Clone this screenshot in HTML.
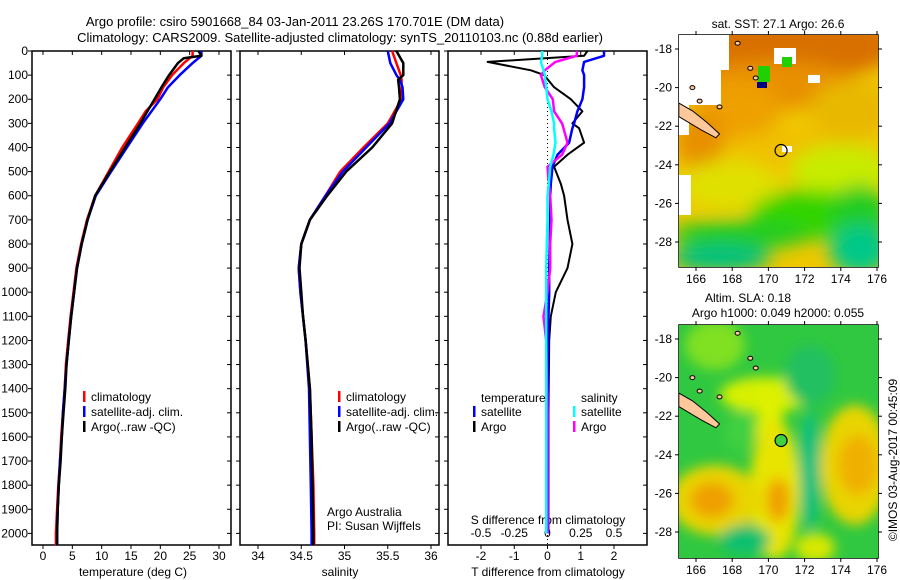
<!DOCTYPE html>
<html><head><meta charset="utf-8"><style>
html,body{margin:0;padding:0;background:#fff;}
svg{display:block;font-family:"Liberation Sans",sans-serif;}
</style></head><body>
<svg id="c" width="900" height="580" viewBox="0 0 900 580" xmlns="http://www.w3.org/2000/svg">
<defs>
<filter id="blur6" x="-20%" y="-20%" width="140%" height="140%"><feGaussianBlur stdDeviation="6"/></filter>
<filter id="blur10" x="-30%" y="-30%" width="160%" height="160%"><feGaussianBlur stdDeviation="9"/></filter>
<clipPath id="m1clip"><rect x="679" y="35" width="199" height="232"/></clipPath>
<clipPath id="m2clip"><rect x="679" y="325" width="199" height="233"/></clipPath>
</defs>
<text x="295" y="26" font-size="13" text-anchor="middle">Argo profile: csiro 5901668_84 03-Jan-2011 23.26S 170.701E (DM data)</text>
<text x="340" y="42" font-size="13" text-anchor="middle">Climatology: CARS2009. Satellite-adjusted climatology: synTS_20110103.nc (0.88d earlier)</text>
<g id="plots"></g>
<g id="maps"></g>
</svg>
<script>
// ---------- data ----------
const depthT = [0,20,30,50,100,150,200,250,300,400,500,600,700,800,900,1000,1100,1200,1300,1400,1500,1600,1700,1800,1900,2000,2050];
const tempArgo = [26.5,27,24,23,21.5,20.2,19,17.8,16.6,14,11.4,8.9,7.6,6.6,5.8,5.3,4.8,4.4,4.0,3.8,3.5,3.2,3.0,2.7,2.5,2.4,2.4];
const tempClim = [25.5,25.5,25,24,22,20.5,19.5,17.5,16.2,13.5,11.2,8.9,7.5,6.5,5.7,5.2,4.7,4.3,3.9,3.7,3.4,3.1,2.9,2.6,2.4,2.2,2.2];
const tempSat  = [27,27,26.5,25.5,23.3,21.3,20,18.5,17,14.3,11.6,9.0,7.6,6.6,5.8,5.3,4.8,4.4,4.0,3.7,3.4,3.2,2.9,2.7,2.5,2.4,2.4];
const depthS = [0,50,100,120,150,200,300,400,500,600,700,800,900,1000,1100,1200,1400,1600,1800,2000,2050];
const salArgo = [35.6,35.68,35.68,35.62,35.63,35.64,35.55,35.32,35.02,34.8,34.6,34.5,34.48,34.5,34.52,34.55,34.6,34.62,34.63,34.64,34.64];
const salClim = [35.55,35.6,35.65,35.66,35.66,35.66,35.5,35.22,34.95,34.78,34.6,34.5,34.47,34.49,34.52,34.55,34.6,34.62,34.64,34.65,34.65];
const salSat  = [35.5,35.53,35.6,35.64,35.67,35.68,35.52,35.25,34.98,34.78,34.6,34.5,34.47,34.49,34.52,34.55,34.59,34.6,34.61,34.62,34.62];
const depthD = [0,20,45,80,100,150,200,250,300,320,380,430,480,550,600,700,800,900,1000,1100,1200,1500,2000];
const dTArgo = [1.2,1.1,-1.8,-0.5,-0.1,0.2,0.7,1.05,0.75,0.95,1.1,0.6,0.2,0.4,0.5,0.6,0.75,0.6,0.25,0.1,0.05,0.03,0.02];
const dTSat  = [1.7,1.7,1.1,1.05,1.1,1.1,1.05,0.9,0.8,0.75,0.65,0.3,0.15,0.1,0.08,0.08,0.07,0.05,0.05,0.03,0.02,0.02,0.02];
const dSArgo = [0.22,0.22,0.06,-0.02,-0.05,-0.02,0.04,0.05,0.11,0.12,0.15,0.11,0.0,0.01,0.02,0.03,0.02,0.02,0.0,-0.03,-0.01,0.0,0.0];
const dSSat  = [-0.04,-0.04,-0.05,-0.03,-0.02,-0.01,0.0,0.03,0.05,0.05,0.06,0.045,0.02,0.01,0.0,0.0,-0.005,-0.01,-0.01,-0.01,-0.01,-0.01,-0.01];
const depthTicks = [0,100,200,300,400,500,600,700,800,900,1000,1100,1200,1300,1400,1500,1600,1700,1800,1900,2000];
const tempTicks = [0,5,10,15,20,25,30];
const salTicks = [34,34.5,35,35.5,36];
const salTickLabels = ["34","34.5","35","35.5","36"];
const dTTicks = [-2,-1,0,1,2];
const dSTicks = [-0.5,-0.25,0,0.25,0.5];
const dSTickLabels = ["-0.5","-0.25","0","0.25","0.5"];
const lonTicks = [166,168,170,172,174,176];
const latTicks = [-18,-20,-22,-24,-26,-28];

// ---------- helpers ----------
const NS="http://www.w3.org/2000/svg";
const plots=document.getElementById('plots');
const maps=document.getElementById('maps');
function mk(tag,attrs,parent){const e=document.createElementNS(NS,tag);for(const k in attrs)e.setAttribute(k,attrs[k]);(parent||plots).appendChild(e);return e;}
const Y0=51,Y1=545;
const yD=d=>Y0+d*0.2412;
function xLin(x0,x1,v0,v1){return v=>x0+(v-v0)*(x1-x0)/(v1-v0);}
const xT=xLin(43,219,0,30);
const xS=xLin(258,431,34,36);
const xDT=xLin(481,614,-2,2);
const xDS=xLin(547.5,614,0,0.5);

function line(depths,vals,xf,color,w,name){
  const p=vals.map((v,i)=>(i?'L':'M')+xf(v).toFixed(1)+','+yD(depths[i]).toFixed(1)).join('');
  const e=mk('path',{d:p,fill:'none',stroke:color,'stroke-width':w,'stroke-linejoin':'round'});
  
  
}
function txt(x,y,s,opts,name){
  const e=mk('text',Object.assign({x:x,y:y,'font-size':12},opts||{}));
  e.textContent=s;
  
  
  return e;
}
function frame(x0,x1,name){
  const e=mk('rect',{x:x0,y:Y0,width:x1-x0,height:Y1-Y0,fill:'none',stroke:'#000','stroke-width':1.5});
  
  
  depthTicks.forEach(d=>{
    const y=yD(d);
    mk('line',{x1:x0-4,y1:y,x2:x0,y2:y,stroke:'#000'});
    mk('line',{x1:x1-4,y1:y,x2:x1,y2:y,stroke:'#000'});
  });
}
function xticks(ticks,labels,xf,y,top,name){
  ticks.forEach((t,i)=>{
    const x=xf(t);
    mk('line',{x1:x,y1:Y1,x2:x,y2:Y1+4,stroke:'#000'});
    if(top) mk('line',{x1:x,y1:Y0,x2:x,y2:Y0+4,stroke:'#000'});
    txt(x,y,labels[i],{'text-anchor':'middle'},name);
  });
}
function legend(x,y,items,name){
  items.forEach((it,i)=>{
    const m=mk('rect',{x:x,y:y+i*15-6,width:2.5,height:11,fill:it[0]});
    
    
    txt(x+8,y+i*15+4,it[1],{},name+'-label');
  });
}

// ---------- panel 1: temperature ----------
frame(32,231,'temperature-panel');
depthTicks.forEach(d=>txt(28,yD(d)+4,String(d),{'text-anchor':'end'},'depth-tick-label'));
xticks(tempTicks,tempTicks.map(String),xT,560,true,'temperature-tick-label');
txt(133,576,'temperature (deg C)',{'text-anchor':'middle'},'temperature-axis-title');
line(depthT,tempClim,xT,'#ff0000',2.5,'temp-climatology-line');
line(depthT,tempSat,xT,'#0000ff',2.5,'temp-satellite-line');
line(depthT,tempArgo,xT,'#000000',2.5,'temp-argo-line');
legend(83,397,[['#f00','climatology'],['#00f','satellite-adj. clim.'],['#000','Argo(..raw -QC)']],'temp-legend');

// ---------- panel 2: salinity ----------
frame(240,439,'salinity-panel');
xticks(salTicks,salTickLabels,xS,560,true,'salinity-tick-label');
txt(340,576,'salinity',{'text-anchor':'middle'},'salinity-axis-title');
line(depthS,salClim,xS,'#ff0000',2.5,'sal-climatology-line');
line(depthS,salSat,xS,'#0000ff',2.5,'sal-satellite-line');
line(depthS,salArgo,xS,'#000000',2.5,'sal-argo-line');
legend(338,397,[['#f00','climatology'],['#00f','satellite-adj. clim.'],['#000','Argo(..raw -QC)']],'sal-legend');
txt(327,516,'Argo Australia',{},'credit-argo-australia');
txt(327,530,'PI: Susan Wijffels',{},'credit-pi');

// ---------- panel 3: differences ----------
frame(448,647,'difference-panel');
mk('line',{x1:xDT(0),y1:Y0,x2:xDT(0),y2:Y1,stroke:'#000','stroke-width':1,'stroke-dasharray':'1,3'});
xticks(dTTicks,dTTicks.map(String),xDT,560,true,'t-diff-tick-label');
dSTicks.forEach((t,i)=>txt(xDS(t),537,dSTickLabels[i],{'text-anchor':'middle'},'s-diff-tick-label'));
txt(548,524,'S difference from climatology',{'text-anchor':'middle'},'s-diff-axis-title');
txt(548,576,'T difference from climatology',{'text-anchor':'middle'},'t-diff-axis-title');
line(depthD,dTArgo,xDT,'#000000',2,'t-diff-argo-line');
line(depthD,dTSat,xDT,'#0000ff',2.5,'t-diff-satellite-line');
line(depthD,dSArgo,xDS,'#ff00ff',2.5,'s-diff-argo-line');
line(depthD,dSSat,xDS,'#00ffff',2.5,'s-diff-satellite-line');
txt(481,402,'temperature',{},'diff-legend-temperature-heading');
txt(581,402,'salinity',{},'diff-legend-salinity-heading');
legend(473,412,[['#00f','satellite'],['#000','Argo']],'diff-legend-temperature');
legend(573,412,[['#0ff','satellite'],['#f0f','Argo']],'diff-legend-salinity');

// ---------- maps ----------
function mapAxes(top,bottom,lat18,lat28,name){
  const xL=v=>696+(v-166)*18.1;
  const yL=v=>lat18+(v+18)*(lat28-lat18)/(-10);
  const r=mk('rect',{x:679,y:top,width:199,height:bottom-top,fill:'none',stroke:'#000','stroke-width':1.5},maps);
  
  
  lonTicks.forEach(l=>{
    const x=xL(l);
    mk('line',{x1:x,y1:bottom,x2:x,y2:bottom+4,stroke:'#000'},maps);
    mk('line',{x1:x,y1:top,x2:x,y2:top-4,stroke:'#000'},maps);
    const t=mk('text',{x:x,y:bottom+16,'font-size':12,'text-anchor':'middle'},maps);t.textContent=String(l);
    
  });
  latTicks.forEach(l=>{
    const y=yL(l);
    mk('line',{x1:675,y1:y,x2:679,y2:y,stroke:'#000'},maps);
    mk('line',{x1:878,y1:y,x2:882,y2:y,stroke:'#000'},maps);
    const t=mk('text',{x:672,y:y+4,'font-size':12,'text-anchor':'end'},maps);t.textContent=String(l);
    
  });
  return {xL,yL};
}
function caledonia(g,xL,yL){
  mk('path',{d:`M${xL(165.05)},${yL(-20.8)} L${xL(165.8)},${yL(-21.2)} L${xL(166.6)},${yL(-21.8)} L${xL(167.3)},${yL(-22.4)} L${xL(167.1)},${yL(-22.6)} L${xL(166.3)},${yL(-22.2)} L${xL(165.05)},${yL(-21.5)} Z`,fill:'#ffc89a',stroke:'#000','stroke-width':1},g);
  [[167.3,-21.0],[166.2,-20.7],[165.8,-20.0],[169.0,-19.0],[169.3,-19.5],[168.3,-17.7]].forEach(p=>{
    mk('ellipse',{cx:xL(p[0]),cy:yL(p[1]),rx:2.5,ry:2,fill:'#ffc89a',stroke:'#000','stroke-width':1},g);
  });
}
// SST map
let a=mapAxes(35,267,49,242,'sst-map');
let g=mk('g',{'clip-path':'url(#m1clip)'},maps);


mk('rect',{x:679,y:35,width:199,height:232,fill:'#f0c800'},g);
const sstBlobs=[[790,45,110,35,'#d87000'],[770,85,90,25,'#e89000'],[740,110,40,30,'#eea000'],[700,140,25,30,'#e89000'],[850,110,40,30,'#e8b800'],[790,150,60,20,'#f0c000'],[730,185,50,25,'#e0e000'],[840,170,50,25,'#c8ec00'],[810,215,60,25,'#30d400'],[860,215,30,30,'#20cc20'],[740,235,70,15,'#20cc20'],[720,258,50,14,'#00c080'],[860,250,30,25,'#00c888']];
const gb=mk('g',{filter:'url(#blur10)'},g);
sstBlobs.forEach(b=>mk('ellipse',{cx:b[0],cy:b[1],rx:b[2],ry:b[3],fill:b[4]},gb));
mk('rect',{x:679,y:35,width:50,height:35,fill:'#fff'},g);
mk('rect',{x:679,y:35,width:42,height:70,fill:'#fff'},g);
mk('rect',{x:679,y:105,width:10,height:30,fill:'#fff'},g);
mk('rect',{x:679,y:175,width:12,height:40,fill:'#fff'},g);
mk('rect',{x:774,y:48,width:22,height:16,fill:'#fff'},g);
mk('rect',{x:808,y:75,width:12,height:8,fill:'#fff'},g);
mk('rect',{x:782,y:146,width:10,height:6,fill:'#fff'},g);
mk('rect',{x:782,y:57,width:10,height:10,fill:'#20d000'},g);
mk('rect',{x:758,y:66,width:12,height:16,fill:'#20d000'},g);
mk('rect',{x:757,y:82,width:10,height:6,fill:'#000080'},g);
caledonia(g,a.xL,a.yL);
mk('circle',{cx:a.xL(170.7),cy:a.yL(-23.26),r:6,fill:'none',stroke:'#000','stroke-width':1.2},g);
let t=mk('text',{x:778,y:28,'font-size':12,'text-anchor':'middle'},maps);t.textContent='sat. SST: 27.1 Argo: 26.6';


// SLA map
a=mapAxes(325,558,339,532,'sla-map');
g=mk('g',{'clip-path':'url(#m2clip)'},maps);


mk('rect',{x:679,y:325,width:199,height:233,fill:'#30c840'},g);
const slaBlobs=[[715,345,30,25,'#80e020'],[765,395,45,18,'#d8f000'],[770,430,14,40,'#e0f000'],[775,490,25,70,'#e8e400'],[778,500,12,22,'#f0a000'],[715,500,45,35,'#e8d400'],[712,500,22,18,'#f0a000'],[855,465,35,60,'#e8d400'],[858,465,20,30,'#f0b000'],[810,470,10,60,'#10c080'],[745,540,25,15,'#10c070'],[810,375,25,30,'#20c060'],[740,432,16,20,'#40d040'],[815,548,20,15,'#d8e800']];
const gb2=mk('g',{filter:'url(#blur6)'},g);
slaBlobs.forEach(b=>mk('ellipse',{cx:b[0],cy:b[1],rx:b[2],ry:b[3],fill:b[4]},gb2));
caledonia(g,a.xL,a.yL);
mk('circle',{cx:a.xL(170.7),cy:a.yL(-23.26),r:6,fill:'#40d040',stroke:'#000','stroke-width':1.2},g);
t=mk('text',{x:748,y:302,'font-size':12,'text-anchor':'middle'},maps);t.textContent='Altim. SLA: 0.18';

t=mk('text',{x:778,y:317,'font-size':12,'text-anchor':'middle'},maps);t.textContent='Argo h1000: 0.049 h2000: 0.055';

t=mk('text',{x:0,y:0,'font-size':12,'text-anchor':'middle',transform:'translate(897,460) rotate(-90)'},maps);t.textContent='©IMOS 03-Aug-2017 00:45:09';

</script>
</body></html>
